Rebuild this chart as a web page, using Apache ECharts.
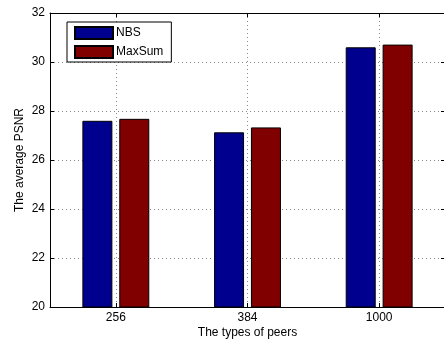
<!DOCTYPE html>
<html>
<head>
<meta charset="utf-8">
<script src="https://cdn.jsdelivr.net/npm/echarts@6/dist/echarts.min.js"></script>
<style>
  html, body { margin: 0; padding: 0; background: #fff; }
  #chart { width: 444px; height: 339px; }
</style>
</head>
<body>
<div id="chart"></div>
<script>
// Peer types on the x axis and average PSNR per scheme
const categories = ['256', '384', '1000'];
const nbsValues = [27.60, 27.13, 30.60];
const maxSumValues = [27.68, 27.33, 30.71];
const yTicks = { min: 20, max: 32, interval: 2 };

const FONT = '"Liberation Sans", Arial, Helvetica, sans-serif';
const gridDots = { color: '#888', width: 1, type: [1, 3] };

const chart = echarts.init(document.getElementById('chart'), null, { renderer: 'canvas' });

chart.setOption({
  animation: false,
  backgroundColor: '#fff',
  textStyle: { fontFamily: FONT },
  grid: { left: 50, top: 13, right: -1, bottom: 32, containLabel: false, outerBoundsMode: 'none' },
  legend: {
    orient: 'vertical',
    left: 67,
    top: 22,
    icon: 'rect',
    itemWidth: 38,
    itemHeight: 12,
    itemGap: 5,
    padding: [4, 8, 3, 7],
    backgroundColor: '#fff',
    borderColor: '#000',
    borderWidth: 1,
    borderRadius: 0,
    textStyle: { fontFamily: FONT, fontSize: 12, color: '#000', padding: [0, 0, 0, -2] },
    data: ['NBS', 'MaxSum']
  },
  xAxis: [
    {
      type: 'category',
      data: categories,
      position: 'bottom',
      name: 'The types of peers',
      nameLocation: 'middle',
      nameGap: 20,
      nameMoveOverlap: false,
      nameTextStyle: { fontFamily: FONT, fontSize: 12, color: '#000' },
      axisLine: { lineStyle: { color: '#000', width: 1 } },
      axisTick: { show: true, inside: true, length: 4, alignWithLabel: true, lineStyle: { color: '#000' } },
      axisLabel: { fontFamily: FONT, fontSize: 12, color: '#000', margin: 5 },
      splitLine: { show: true, alignWithLabel: true, lineStyle: gridDots }
    },
    {
      type: 'category',
      data: categories,
      position: 'top',
      axisLine: { lineStyle: { color: '#000', width: 1 } },
      axisTick: { show: true, inside: true, length: 4, alignWithLabel: true, lineStyle: { color: '#000' } },
      axisLabel: { show: false },
      splitLine: { show: false }
    }
  ],
  yAxis: [
    {
      type: 'value',
      min: yTicks.min,
      max: yTicks.max,
      interval: yTicks.interval,
      name: 'The average PSNR',
      nameLocation: 'middle',
      nameGap: 24,
      nameMoveOverlap: false,
      nameRotate: 90,
      nameTextStyle: { fontFamily: FONT, fontSize: 12, color: '#000' },
      axisLine: { show: true, lineStyle: { color: '#000', width: 1 } },
      axisTick: { show: true, inside: true, length: 4, lineStyle: { color: '#000' } },
      axisLabel: { fontFamily: FONT, fontSize: 12, color: '#000', margin: 5 },
      splitLine: { show: true, lineStyle: gridDots }
    },
    {
      type: 'value',
      min: yTicks.min,
      max: yTicks.max,
      interval: yTicks.interval,
      position: 'right',
      axisLine: { show: true, lineStyle: { color: '#000', width: 1 } },
      axisTick: { show: true, inside: true, length: 4, lineStyle: { color: '#000' } },
      axisLabel: { show: false },
      splitLine: { show: false }
    }
  ],
  series: [
    {
      name: 'NBS',
      type: 'bar',
      data: nbsValues,
      barWidth: 30,
      barGap: '23%',
      itemStyle: { color: '#00008F', borderColor: '#000', borderWidth: 1 }
    },
    {
      name: 'MaxSum',
      type: 'bar',
      data: maxSumValues,
      barWidth: 30,
      barGap: '23%',
      itemStyle: { color: '#800000', borderColor: '#000', borderWidth: 1 }
    }
  ]
});
</script>
</body>
</html>
